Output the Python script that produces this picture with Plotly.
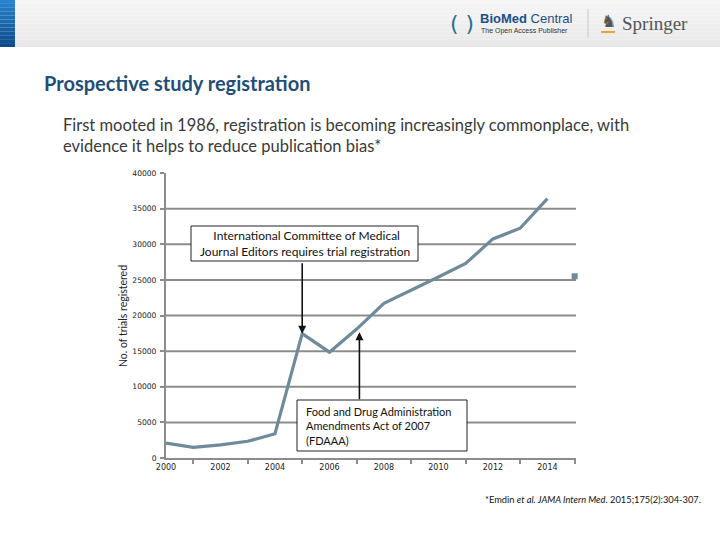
import plotly.graph_objects as go

years = [2000, 2001, 2002, 2003, 2004, 2005, 2006, 2007, 2008, 2009, 2010, 2011, 2012, 2013, 2014]
trials = [2100, 1500, 1850, 2350, 3400, 17450, 14850, 18100, 21700, 23500, 25400, 27300, 30750, 32250, 36400]
partial_year = [2015]
partial_trials = [25500]
y_ticks = [0, 5000, 10000, 15000, 20000, 25000, 30000, 35000, 40000]
x_labels = [2000, 2002, 2004, 2006, 2008, 2010, 2012, 2014]
x_minor = [2001, 2003, 2005, 2007, 2009, 2011, 2013, 2015]

W, H = 720, 540
L, R, T, B = 166, 576, 173, 458


def px(x):
    return (x - L) / (R - L)


def py(y):
    return (B - y) / (B - T)


LINE = "#6f8a9b"
GRID = "#8c8c8c"

fig = go.Figure()
fig.add_trace(go.Scatter(x=years, y=trials, mode="lines",
                         line=dict(color=LINE, width=3.2), cliponaxis=False,
                         hoverinfo="skip", showlegend=False))
fig.add_trace(go.Scatter(x=partial_year, y=partial_trials, mode="markers",
                         marker=dict(color=LINE, size=6, symbol="square"), cliponaxis=False,
                         hoverinfo="skip", showlegend=False))

shapes = []
# gridlines
for v in y_ticks[1:-1]:
    shapes.append(dict(type="line", xref="paper", yref="y", x0=0, x1=1, y0=v, y1=v,
                       line=dict(color=GRID, width=2), layer="below"))
# header background (gradient approx)
n = 12
for i in range(n):
    c = int(246 - i * 1.2)
    shapes.append(dict(type="rect", xref="paper", yref="paper",
                       x0=px(0), x1=px(W), y0=py(47 * (i + 1) / n), y1=py(47 * i / n),
                       line=dict(width=0), fillcolor=f"rgb({c},{c},{c})", layer="below"))
# blue block
for i in range(n):
    r = int(40 - i * 2.5); g = int(130 - i * 5); b = int(205 - i * 6)
    shapes.append(dict(type="rect", xref="paper", yref="paper",
                       x0=px(0), x1=px(15), y0=py(47 * (i + 1) / n), y1=py(47 * i / n),
                       line=dict(width=0), fillcolor=f"rgb({r},{g},{b})", layer="below"))
# separator in header
shapes.append(dict(type="line", xref="paper", yref="paper", x0=px(588), x1=px(588),
                   y0=py(37), y1=py(9), line=dict(color="#c8c8c8", width=1)))
# Springer underline
shapes.append(dict(type="line", xref="paper", yref="paper", x0=px(601), x1=px(615),
                   y0=py(32), y1=py(32), line=dict(color="#f0a030", width=2)))
# annotation boxes
shapes.append(dict(type="rect", xref="paper", yref="paper", x0=px(191), x1=px(418),
                   y0=py(261), y1=py(226), line=dict(color="#222", width=1), fillcolor="white"))
shapes.append(dict(type="rect", xref="paper", yref="paper", x0=px(297), x1=px(467),
                   y0=py(451), y1=py(400), line=dict(color="#222", width=1), fillcolor="white"))

ann = []
ann.append(dict(x=2005, y=trials[5], xref="x", yref="y", ax=2005, ay=27550, axref="x", ayref="y",
                showarrow=True, arrowhead=2, arrowsize=1, arrowwidth=1.6, arrowcolor="#111", text=""))
ann.append(dict(x=2007.1, y=17650, xref="x", yref="y", ax=2007.1, ay=8050, axref="x", ayref="y",
                showarrow=True, arrowhead=2, arrowsize=1, arrowwidth=1.6, arrowcolor="#111", text=""))
ann.append(dict(x=px(304.5), y=py(243.5), xref="paper", yref="paper", xanchor="center", yanchor="middle",
                text=" International Committee of Medical<br>Journal Editors requires trial registration",
                showarrow=False, align="center", font=dict(family="Lato", size=12, color="#111")))
ann.append(dict(x=px(304), y=py(425.5), xref="paper", yref="paper", xanchor="left", yanchor="middle",
                text="Food and Drug Administration<br>Amendments Act of 2007<br>(FDAAA)",
                showarrow=False, align="left", font=dict(family="Lato", size=11, color="#111")))
# y-axis title
ann.append(dict(x=px(123), y=py(316), xref="paper", yref="paper", textangle=-90,
                xanchor="center", yanchor="middle",
                text="No. of trials registered", showarrow=False,
                font=dict(family="Lato", size=10.5, color="#222")))
# title & subtitle
ann.append(dict(x=px(42), y=py(83), xref="paper", yref="paper", xanchor="left", yanchor="middle",
                text="<b>Prospective study registration</b>", showarrow=False,
                font=dict(family="Lato", size=20, color="#1f4e79")))
ann.append(dict(x=px(61), y=py(135.5), xref="paper", yref="paper", xanchor="left", yanchor="middle",
                text="First mooted in 1986, registration is becoming increasingly commonplace, with<br>evidence it helps to reduce publication bias*",
                showarrow=False, align="left",
                font=dict(family="Lato", size=16.5, color="#3a3a3a")))
# footnote
ann.append(dict(x=px(703), y=py(499), xref="paper", yref="paper", xanchor="right", yanchor="middle",
                text="*Emdin <i>et al. JAMA Intern Med</i>. 2015;175(2):304-307.", showarrow=False,
                font=dict(family="Lato", size=9.3, color="#111")))
# header logos
ann.append(dict(x=px(462), y=py(24), xref="paper", yref="paper", xanchor="center", yanchor="middle",
                text="( )", showarrow=False, font=dict(family="DejaVu Sans", size=22, color="#2f6f8f")))
ann.append(dict(x=px(478), y=py(18), xref="paper", yref="paper", xanchor="left", yanchor="middle",
                text="<b>BioMed</b> Central", showarrow=False,
                font=dict(family="Liberation Sans", size=13, color="#1a4f8a")))
ann.append(dict(x=px(479), y=py(31), xref="paper", yref="paper", xanchor="left", yanchor="middle",
                text="The Open Access Publisher", showarrow=False,
                font=dict(family="Liberation Sans", size=7, color="#333")))
ann.append(dict(x=px(608), y=py(21), xref="paper", yref="paper", xanchor="center", yanchor="middle",
                text="♞", showarrow=False, font=dict(family="DejaVu Sans", size=17, color="#555")))
ann.append(dict(x=px(620), y=py(24), xref="paper", yref="paper", xanchor="left", yanchor="middle",
                text="Springer", showarrow=False,
                font=dict(family="Liberation Serif", size=19, color="#555")))

fig.update_layout(
    width=W, height=H, margin=dict(l=L, r=W - R, t=T, b=H - B, pad=0),
    paper_bgcolor="white", plot_bgcolor="white",
    shapes=shapes, annotations=ann, showlegend=False,
    xaxis=dict(range=[2000, 2015.05], tickvals=x_labels, ticktext=[str(v) for v in x_labels],
               ticks="", showgrid=False, zeroline=False,
               showline=True, linecolor=GRID, linewidth=2,
               tickfont=dict(family="DejaVu Sans", size=8, color="#222"),
               minor=dict(tickvals=x_minor, ticks="outside", ticklen=4, tickcolor=GRID,
                          tickwidth=2, showgrid=False)),
    yaxis=dict(range=[0, 40000], tickvals=y_ticks, ticktext=[str(v) for v in y_ticks],
               ticks="outside", ticklen=4, tickcolor=GRID, tickwidth=2,
               ticklabelstandoff=2,
               showgrid=False, zeroline=False,
               showline=True, linecolor=GRID, linewidth=2,
               tickfont=dict(family="DejaVu Sans", size=7.6, color="#222")),
)

fig.write_html("out.html")
